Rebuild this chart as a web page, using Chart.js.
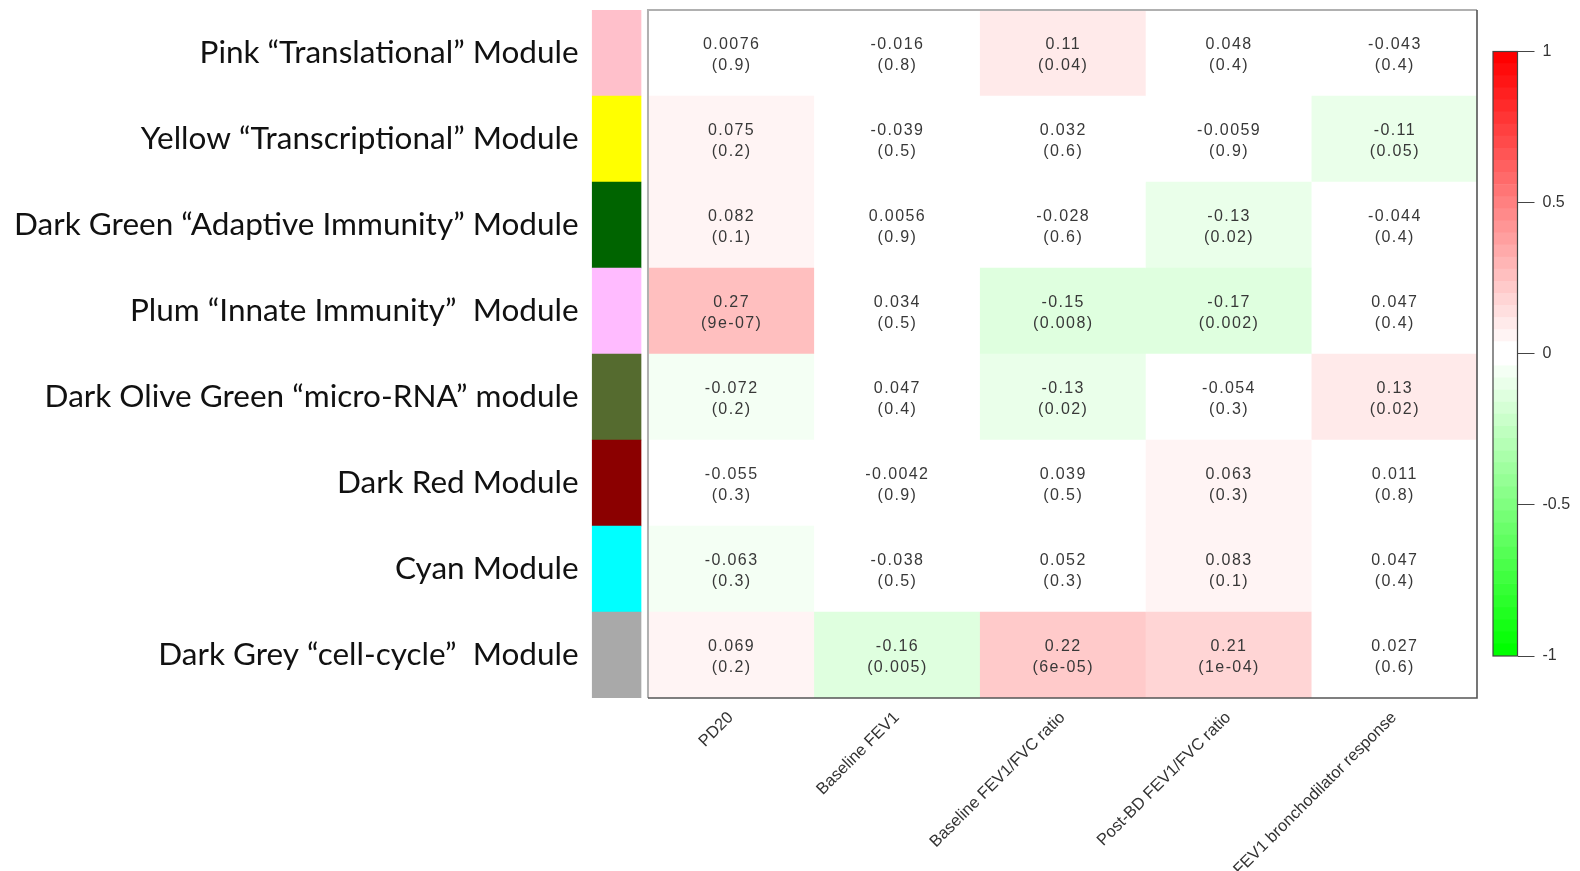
<!DOCTYPE html>
<html>
<head>
<meta charset="utf-8">
<title>Module–trait correlations</title>
<script src="https://cdn.jsdelivr.net/npm/chart.js@4.4.1/dist/chart.umd.min.js"></script>
<style>
  html, body { margin: 0; padding: 0; background: #ffffff; overflow: hidden; }
  #wrap { position: relative; width: 1580px; height: 871px; }
  #heat { position: absolute; left: 0; top: 0; }
  #scale { position: absolute; left: 1480px; top: 0; }
</style>
</head>
<body>
<div id="wrap">
  <canvas id="heat" width="1580" height="871"></canvas>
  <canvas id="scale" width="100" height="871"></canvas>
</div>
<script>
// Gene co-expression modules (rows) and their colour codes
const modules = [
  'Pink \u201cTranslational\u201d Module',
  'Yellow \u201cTranscriptional\u201d Module',
  'Dark Green \u201cAdaptive Immunity\u201d Module',
  'Plum \u201cInnate Immunity\u201d  Module',
  'Dark Olive Green \u201cmicro-RNA\u201d module',
  'Dark Red Module',
  'Cyan Module',
  'Dark Grey \u201ccell-cycle\u201d  Module'
];
const moduleColors = ['#ffc0cb', '#ffff00', '#006400', '#ffbbff', '#556b2f', '#8b0000', '#00ffff', '#a9a9a9'];

// Clinical traits (columns)
const traits = ['PD20', 'Baseline FEV1', 'Baseline FEV1/FVC ratio', 'Post-BD FEV1/FVC ratio', 'FEV1 bronchodilator response'];

// Correlation and p-value per trait, one entry per module
const corrPD20          = [0.0076, 0.075, 0.082, 0.27, -0.072, -0.055, -0.063, 0.069];
const pPD20             = ['0.9', '0.2', '0.1', '9e-07', '0.2', '0.3', '0.3', '0.2'];
const corrBaselineFEV1  = [-0.016, -0.039, 0.0056, 0.034, 0.047, -0.0042, -0.038, -0.16];
const pBaselineFEV1     = ['0.8', '0.5', '0.9', '0.5', '0.4', '0.9', '0.5', '0.005'];
const corrBaselineRatio = [0.11, 0.032, -0.028, -0.15, -0.13, 0.039, 0.052, 0.22];
const pBaselineRatio    = ['0.04', '0.6', '0.6', '0.008', '0.02', '0.5', '0.3', '6e-05'];
const corrPostBDRatio   = [0.048, -0.0059, -0.13, -0.17, -0.054, 0.063, 0.083, 0.21];
const pPostBDRatio      = ['0.4', '0.9', '0.02', '0.002', '0.3', '0.3', '0.1', '1e-04'];
const corrBDResponse    = [-0.043, -0.11, -0.044, 0.047, 0.13, 0.011, 0.047, 0.027];
const pBDResponse       = ['0.4', '0.05', '0.4', '0.4', '0.02', '0.8', '0.4', '0.6'];

// Colour key
const colorbarTicks = [-1, -0.5, 0, 0.5, 1];
const PALETTE_STEPS = 50;

const traitCorr = [corrPD20, corrBaselineFEV1, corrBaselineRatio, corrPostBDRatio, corrBDResponse];
const traitP    = [pPD20, pBaselineFEV1, pBaselineRatio, pPostBDRatio, pBDResponse];

// green - white - red palette, 25 steps on each side of zero
function paletteColor(index) {
  const half = PALETTE_STEPS / 2;
  if (index < half) {
    const t = Math.round(255 * index / (half - 1));
    return `rgb(${t},255,${t})`;
  }
  const t = Math.round(255 * (1 - (index - half) / (half - 1)));
  return `rgb(255,${t},${t})`;
}
function cellColor(v) {
  const level = Math.min(24, Math.max(0, Math.floor((Math.abs(v) - 0.02) / 0.04 + 1e-6)));
  return v >= 0 ? paletteColor(25 + level) : paletteColor(24 - level);
}

// layout of the horizontal value axis: module colour strip sits left of 0
const X_MIN = -0.34;
const STRIP = [-0.337, -0.042];

const barBase = { barPercentage: 1, categoryPercentage: 1, grouped: false, borderWidth: 0 };

const datasets = [Object.assign({
  label: 'Module colour',
  data: modules.map(() => STRIP),
  backgroundColor: moduleColors
}, barBase)];

traits.forEach((t, c) => {
  datasets.push(Object.assign({
    label: t,
    data: modules.map(() => [c, c + 1]),
    backgroundColor: traitCorr[c].map(cellColor),
    corr: traitCorr[c],
    pval: traitP[c]
  }, barBase));
});

// writes "r (p)" into each cell and frames the heatmap
const cellText = {
  id: 'cellText',
  afterDatasetsDraw(chart) {
    const ctx = chart.ctx;
    ctx.save();
    ctx.fillStyle = '#383838';
    ctx.font = '16px "Liberation Sans", Arial, sans-serif';
    if ('letterSpacing' in ctx) ctx.letterSpacing = '1.4px';
    ctx.textAlign = 'center';
    ctx.textBaseline = 'middle';
    chart.data.datasets.forEach((ds, di) => {
      if (!ds.corr) return;
      chart.getDatasetMeta(di).data.forEach((bar, i) => {
        const cx = (bar.x + bar.base) / 2 + 0.7;
        const cy = bar.y;
        ctx.fillText(String(ds.corr[i]), cx, cy - 8.5);
        ctx.fillText('(' + ds.pval[i] + ')', cx, cy + 13);
      });
    });
    if ('letterSpacing' in ctx) ctx.letterSpacing = '0px';
    const xs = chart.scales.x;
    const l = xs.getPixelForValue(0);
    const r = xs.getPixelForValue(traits.length);
    const { top, bottom } = chart.chartArea;
    ctx.lineWidth = 2;
    ctx.strokeStyle = '#b0b0b0';
    ctx.beginPath();
    ctx.moveTo(l, bottom); ctx.lineTo(l, top); ctx.lineTo(r, top);
    ctx.stroke();
    ctx.strokeStyle = '#555555';
    ctx.lineWidth = 1.6;
    ctx.beginPath();
    ctx.moveTo(r, top); ctx.lineTo(r, bottom); ctx.lineTo(l, bottom);
    ctx.stroke();
    ctx.restore();
  }
};

new Chart(document.getElementById('heat'), {
  type: 'bar',
  data: { labels: modules, datasets },
  options: {
    indexAxis: 'y',
    responsive: false,
    animation: false,
    events: [],
    layout: { padding: { left: 0, top: 10, right: 103, bottom: 0 } },
    plugins: { legend: { display: false }, tooltip: { enabled: false } },
    scales: {
      y: {
        type: 'category',
        grid: { display: false, drawTicks: false },
        border: { display: false },
        ticks: {
          autoSkip: false,
          padding: 13,
          color: '#111111',
          font: { family: 'Lato', size: 31.5 }
        },
        afterFit(s) { s.width = 591.6; s.paddingTop = 0; s.paddingBottom = 0; }
      },
      x: {
        type: 'linear',
        position: 'bottom',
        min: X_MIN,
        max: traits.length,
        grid: { display: false, drawTicks: false },
        border: { display: false },
        afterBuildTicks(s) { s.ticks = traits.map((_, i) => ({ value: i + 0.5 })); },
        ticks: {
          autoSkip: false,
          minRotation: 45,
          maxRotation: 45,
          padding: 10,
          color: '#333333',
          font: { family: '"Liberation Sans", Arial, sans-serif', size: 16.5 },
          callback: (v, i) => traits[i]
        },
        afterFit(s) { s.height = 173; s.paddingLeft = 0; s.paddingRight = 0; }
      }
    }
  },
  plugins: [cellText]
});

// Colour key: 50 stacked bands from -1 to 1
const bandDatasets = [];
for (let k = 0; k < PALETTE_STEPS; k++) {
  const lo = -1 + 2 * k / PALETTE_STEPS;
  bandDatasets.push(Object.assign({
    data: [[lo, lo + 2 / PALETTE_STEPS]],
    backgroundColor: paletteColor(k)
  }, barBase));
}

const keyFrame = {
  id: 'keyFrame',
  afterDatasetsDraw(chart) {
    const { left, right, top, bottom } = chart.chartArea;
    const ctx = chart.ctx;
    ctx.save();
    ctx.strokeStyle = '#444444';
    ctx.lineWidth = 1.2;
    ctx.strokeRect(left, top, right - left, bottom - top);
    ctx.restore();
  }
};

new Chart(document.getElementById('scale'), {
  type: 'bar',
  data: { labels: [''], datasets: bandDatasets },
  options: {
    responsive: false,
    animation: false,
    events: [],
    layout: { padding: { left: 13, top: 51.5, bottom: 215, right: 0 } },
    plugins: { legend: { display: false }, tooltip: { enabled: false } },
    scales: {
      x: { display: false },
      y: {
        position: 'right',
        min: -1,
        max: 1,
        afterBuildTicks(s) { s.ticks = colorbarTicks.map(v => ({ value: v })); },
        grid: { drawOnChartArea: false, drawTicks: true, tickLength: 17, color: '#444444', lineWidth: 1 },
        border: { display: false },
        ticks: {
          padding: 8,
          color: '#333333',
          font: { family: '"Liberation Sans", Arial, sans-serif', size: 16 },
          callback: (v) => String(v)
        },
        afterFit(s) { s.width = 100 - 13 - 24.5; s.paddingTop = 0; s.paddingBottom = 0; }
      }
    }
  },
  plugins: [keyFrame]
});
</script>
</body>
</html>
